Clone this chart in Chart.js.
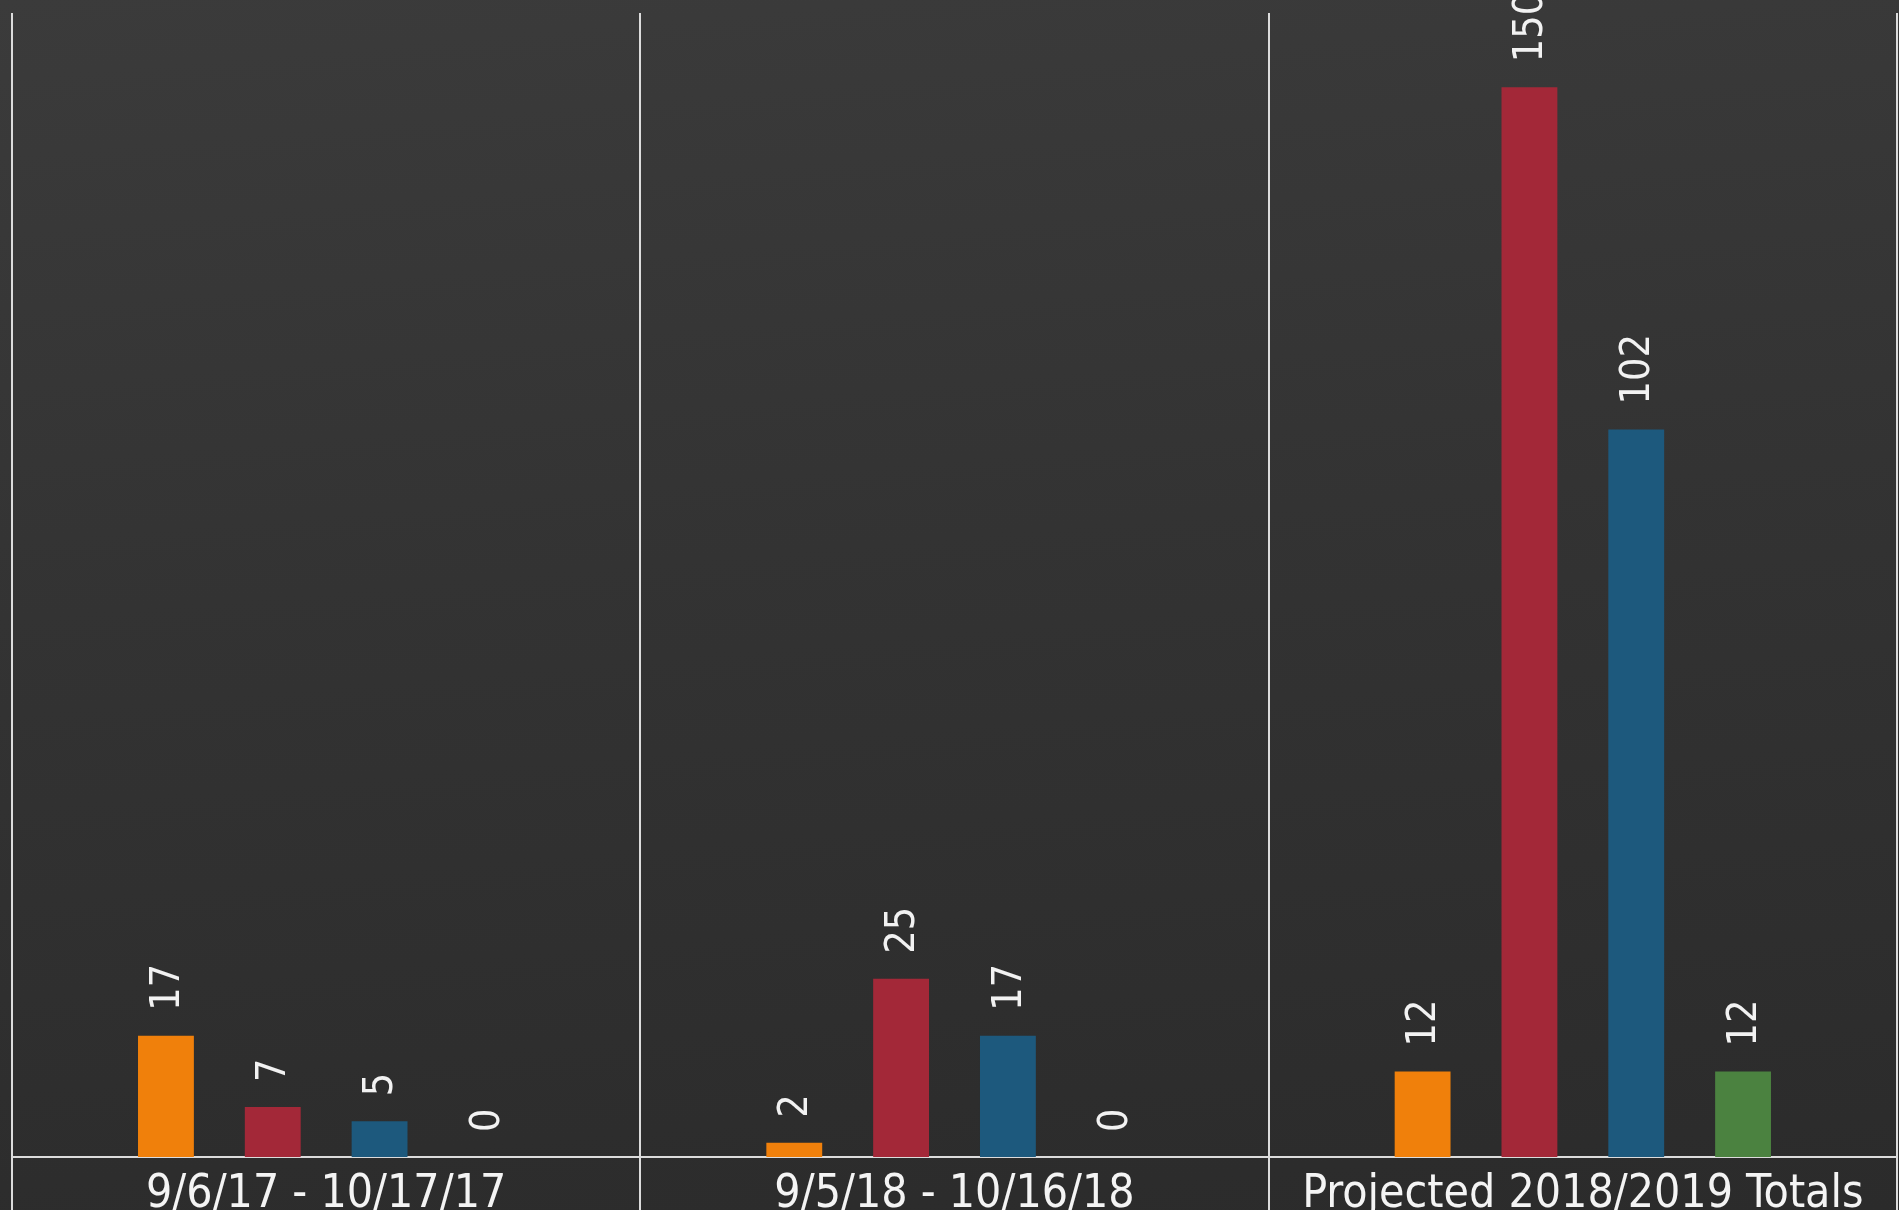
<!DOCTYPE html>
<html>
<head>
  <title>Period Comparison</title>
  <script src="https://cdn.jsdelivr.net/npm/chart.js"></script>
  <style>
    html, body { margin: 0; padding: 0; }
    body {
      width: 1899px;
      height: 1210px;
      overflow: hidden;
      background: linear-gradient(175deg, #3b3b3b 0%, #333333 45%, #2b2b2b 100%);
    }
  </style>
</head>
<body>
  <canvas id="periodChart" width="1899" height="1210"></canvas>

  <script>
    // periods along the x axis
    const periods = ['9/6/17 - 10/17/17', '9/5/18 - 10/16/18', 'Projected 2018/2019 Totals'];

    // one array per bar colour, one value per period
    const seriesOrange = [17, 2, 12];
    const seriesRed = [7, 25, 150];
    const seriesBlue = [5, 17, 102];
    const seriesGreen = [0, 0, 12];

    const yMax = 160.4;

    const fontFamily = "'DejaVu Sans Condensed', 'DejaVu Sans', sans-serif";
    const lineColor = '#dcdcdc';

    // rotated value text above each bar
    const valueLabels = {
        id: 'valueLabels',
        afterDatasetsDraw(chart) {
            const ctx = chart.ctx;
            chart.data.datasets.forEach((ds, i) => {
                const meta = chart.getDatasetMeta(i);
                meta.data.forEach((bar, j) => {
                    ctx.save();
                    ctx.translate(bar.x + 2, bar.y - 25);
                    ctx.rotate(-Math.PI / 2);
                    ctx.font = '41px ' + fontFamily;
                    ctx.fillStyle = '#f2f2f2';
                    ctx.textAlign = 'left';
                    ctx.textBaseline = 'middle';
                    ctx.fillText(String(ds.data[j]), 0, 0);
                    ctx.restore();
                });
            });
        }
    };

    const ctx = document.getElementById('periodChart').getContext('2d');
    const chart = new Chart(ctx, {
        type: 'bar',
        data: {
            labels: periods,
            datasets: [
                { label: 'Series 1', data: seriesOrange, backgroundColor: '#f0800b' },
                { label: 'Series 2', data: seriesRed, backgroundColor: '#a32838' },
                { label: 'Series 3', data: seriesBlue, backgroundColor: '#1d597d' },
                { label: 'Series 4', data: seriesGreen, backgroundColor: '#4b8240' }
            ]
        },
        options: {
            responsive: false,
            animation: false,
            layout: {
                padding: { left: 12, right: 2, top: 13, bottom: 0 }
            },
            datasets: {
                bar: {
                    categoryPercentage: 0.68,
                    barPercentage: 0.523
                }
            },
            plugins: {
                legend: { display: false },
                tooltip: { enabled: false }
            },
            scales: {
                x: {
                    offset: true,
                    grid: {
                        display: true,
                        offset: true,
                        color: lineColor,
                        lineWidth: 2,
                        drawTicks: true,
                        tickLength: 60,
                        tickColor: lineColor,
                        tickWidth: 2
                    },
                    border: { display: true, color: lineColor, width: 2 },
                    ticks: {
                        color: '#f4f4f4',
                        padding: -50,
                        maxRotation: 0,
                        autoSkip: false,
                        font: { family: fontFamily, size: 46 }
                    },
                    afterFit(scale) {
                        scale.height = 53;
                    }
                },
                y: {
                    display: false,
                    min: 0,
                    max: yMax
                }
            }
        },
        plugins: [valueLabels]
    });
  </script>
</body>
</html>
